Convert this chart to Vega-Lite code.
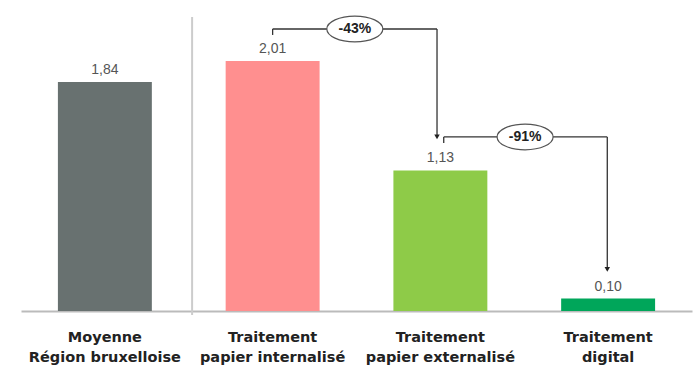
{
  "$schema": "https://vega.github.io/schema/vega-lite/v6.json",
  "width": 671,
  "height": 311,
  "autosize": {"type": "none"},
  "padding": {"left": 21, "top": 0, "right": 2, "bottom": 54},
  "background": "white",
  "config": {
    "view": {"stroke": null},
    "locale": {"number": {"decimal": ",", "thousands": " ", "grouping": [3], "currency": ["", " €"]}}
  },
  "datasets": {
    "bars": [
      {"cat": "Moyenne|Région bruxelloise", "value": 1.84},
      {"cat": "Traitement|papier internalisé", "value": 2.01},
      {"cat": "Traitement|papier externalisé", "value": 1.13},
      {"cat": "Traitement|digital", "value": 0.10}
    ],
    "segs": [
      {"x": 1.5, "x2": 1.5, "y": 2.219, "y2": 2.267},
      {"x": 1.5, "x2": 2.48, "y": 2.267, "y2": 2.267},
      {"x": 2.48, "x2": 2.48, "y": 2.267, "y2": 1.40},
      {"x": 2.52, "x2": 2.52, "y": 1.35, "y2": 1.399},
      {"x": 2.52, "x2": 3.495, "y": 1.399, "y2": 1.399},
      {"x": 3.495, "x2": 3.495, "y": 1.399, "y2": 0.33}
    ],
    "arrows": [
      {"x": 2.48, "y": 1.40},
      {"x": 3.495, "y": 0.335}
    ],
    "pcts": [
      {"x": 1.99, "y": 2.267, "label": "-43%"},
      {"x": 3.005, "y": 1.399, "label": "-91%"}
    ],
    "sep": [
      {"x": 1.02, "y": 2.363, "y2": -0.032}
    ]
  },
  "layer": [
    {
      "data": {"name": "bars"},
      "encoding": {
        "x": {
          "field": "cat", "type": "nominal", "sort": null,
          "scale": {"paddingInner": 0.44, "paddingOuter": 0.22},
          "axis": {
            "title": null,
            "labelAngle": 0,
            "labelExpr": "split(datum.label, '|')",
            "labelFont": "DejaVu Sans",
            "labelFontWeight": "bold",
            "labelFontSize": 14.5,
            "labelColor": "#222222",
            "labelLineHeight": 20,
            "labelPadding": 19,
            "ticks": false,
            "domainColor": "#bbbbbb",
            "domainWidth": 2
          }
        },
        "y": {
          "field": "value", "type": "quantitative",
          "scale": {"domain": [0, 2.5], "nice": false},
          "axis": null
        }
      },
      "layer": [
        {
          "mark": {"type": "bar"},
          "encoding": {
            "color": {
              "field": "cat", "type": "nominal", "legend": null,
              "scale": {
                "domain": ["Moyenne|Région bruxelloise", "Traitement|papier internalisé", "Traitement|papier externalisé", "Traitement|digital"],
                "range": ["#687170", "#ff8f8f", "#8ecb48", "#00a65a"]
              }
            }
          }
        },
        {
          "mark": {"type": "text", "baseline": "alphabetic", "dy": -8, "font": "Liberation Sans", "fontSize": 14, "color": "#555555"},
          "encoding": {
            "text": {"field": "value", "type": "quantitative", "format": ".2f"}
          }
        }
      ]
    },
    {
      "layer": [
        {
          "data": {"name": "sep"},
          "mark": {"type": "rule", "color": "#cccccc", "strokeWidth": 2},
          "encoding": {
            "x": {"field": "x", "type": "quantitative", "scale": {"domain": [0, 4], "nice": false, "zero": false}, "axis": null},
            "y": {"field": "y", "type": "quantitative"},
            "y2": {"field": "y2"}
          }
        },
        {
          "data": {"name": "segs"},
          "mark": {"type": "rule", "color": "#333333", "strokeWidth": 1.3},
          "encoding": {
            "x": {"field": "x", "type": "quantitative", "scale": {"domain": [0, 4], "nice": false, "zero": false}, "axis": null},
            "x2": {"field": "x2"},
            "y": {"field": "y", "type": "quantitative"},
            "y2": {"field": "y2"}
          }
        },
        {
          "data": {"name": "arrows"},
          "mark": {"type": "point", "shape": "triangle-down", "filled": true, "size": 30, "color": "#222222", "opacity": 1},
          "encoding": {
            "x": {"field": "x", "type": "quantitative", "scale": {"domain": [0, 4], "nice": false, "zero": false}, "axis": null},
            "y": {"field": "y", "type": "quantitative"}
          }
        },
        {
          "data": {"name": "pcts"},
          "mark": {"type": "point", "shape": "M -1 0 A 1 0.46 0 1 0 1 0 A 1 0.46 0 1 0 -1 0 Z", "filled": false, "fill": "white", "fillOpacity": 1, "stroke": "#555555", "strokeWidth": 1.2, "size": 3136, "opacity": 1},
          "encoding": {
            "x": {"field": "x", "type": "quantitative", "scale": {"domain": [0, 4], "nice": false, "zero": false}, "axis": null},
            "y": {"field": "y", "type": "quantitative"}
          }
        },
        {
          "data": {"name": "pcts"},
          "mark": {"type": "text", "font": "Liberation Sans", "fontWeight": "bold", "fontSize": 14, "color": "#222222", "baseline": "middle"},
          "encoding": {
            "x": {"field": "x", "type": "quantitative", "scale": {"domain": [0, 4], "nice": false, "zero": false}, "axis": null},
            "y": {"field": "y", "type": "quantitative"},
            "text": {"field": "label"}
          }
        }
      ]
    }
  ],
  "resolve": {"scale": {"x": "independent"}, "axis": {"x": "independent"}}
}
